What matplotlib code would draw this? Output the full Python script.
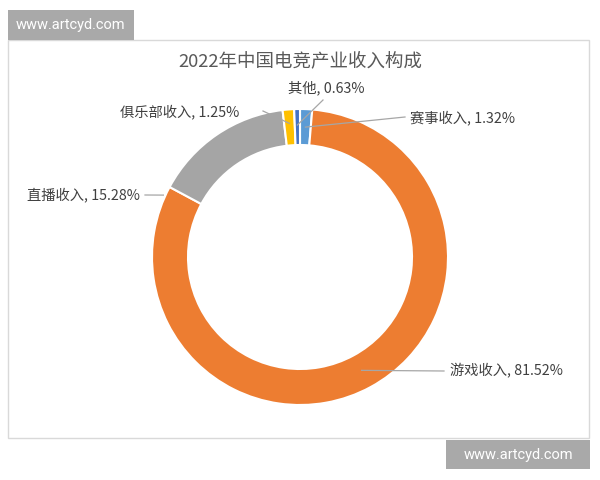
import matplotlib.pyplot as plt
from matplotlib.patches import Rectangle
import numpy as np

plt.rcParams['font.family'] = ['Noto Sans CJK SC', 'DejaVu Sans']

# data, clockwise from 12 o'clock (Excel order)
categories = ['赛事收入', '游戏收入', '直播收入', '俱乐部收入', '其他']
shares = [1.32, 81.52, 15.28, 1.25, 0.63]
colors = ['#5B9BD5', '#ED7D31', '#A5A5A5', '#FFC000', '#4472C4']
title = '2022年中国电竞产业收入构成'
watermark = 'www.artcyd.com'

W, H = 600, 480


def py(y):
    # picture rows (top = 0) -> axes y (bottom = 0)
    return H - y


fig = plt.figure(figsize=(6, 4.8), dpi=100)
ax = fig.add_axes([0, 0, 1, 1])

# chart frame
ax.add_patch(Rectangle((8, py(438)), 581, 398, facecolor='white',
                       edgecolor='#D9D9D9', linewidth=1, zorder=0))

cx, cy, R, ring = 300, py(257), 148, 36
wedges, _ = ax.pie(shares, colors=colors, startangle=90, counterclock=False,
                   radius=R, center=(cx, cy),
                   wedgeprops=dict(width=ring, edgecolor='white', linewidth=1.5))

# label text spot (left x, row), anchor fraction along wedge, anchor radius
label_spots = {
    '赛事收入': ((410, 118), 0.5, 130),
    '游戏收入': ((450, 371), 0.5, 129),
    '直播收入': ((27, 195), -0.07, 150),
    '俱乐部收入': ((120, 112), 0.5, 134),
    '其他': ((288, 88), 0.5, 132),
}
line_start = {
    '赛事收入': (405, 117),
    '游戏收入': (444, 371),
    '直播收入': (145, 195),
    '俱乐部收入': (263, 111),
    '其他': (323, 100),
}

for w, cat, val in zip(wedges, categories, shares):
    (tx, ty), f, r = label_spots[cat]
    ang = np.deg2rad(w.theta2 - f * (w.theta2 - w.theta1))
    axp = cx + r * np.cos(ang)
    ayp = cy + r * np.sin(ang)
    sx, sy = line_start[cat]
    ax.plot([sx, axp], [py(sy), ayp], color='#A6A6A6', lw=0.9, zorder=5)
    ax.text(tx, py(ty), f'{cat}, {val:.2f}%', fontsize=10.3, color='#404040',
            ha='left', va='center', zorder=6)

ax.text(300, py(61), title, fontsize=13.3, color='#595959',
        ha='center', va='center')

# watermarks
for (x0, y0, x1, y1) in [(8, 10, 134, 40), (446, 440, 590, 469)]:
    ax.add_patch(Rectangle((x0, py(y1)), x1 - x0, y1 - y0,
                           facecolor='#A9A9A9', edgecolor='none', zorder=7))
    ax.text((x0 + x1) / 2, py((y0 + y1) / 2), watermark, fontsize=10.5,
            family='Roboto', color='white', ha='center', va='center', zorder=8)

ax.set_xlim(0, W)
ax.set_ylim(0, H)
ax.axis('off')

fig.savefig('out.png', dpi=100)
